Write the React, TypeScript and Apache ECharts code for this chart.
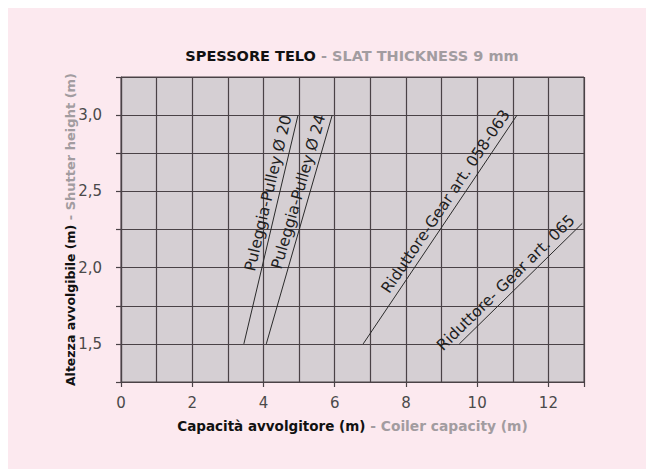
import React, { useEffect, useRef } from 'react';
import * as echarts from 'echarts';

// Line endpoints (x = coiler capacity m, y = shutter height m)
const pulley20X = [3.45, 4.97];
const pulley20Y = [1.5, 3.0];
const pulley24X = [4.08, 5.93];
const pulley24Y = [1.5, 3.0];
const gear058X = [6.8, 11.12];
const gear058Y = [1.5, 3.0];
const gear065X = [9.5, 12.95];
const gear065Y = [1.5, 2.29];

const lineNames = [
  'Puleggia-Pulley Ø 20',
  'Puleggia-Pulley Ø 24',
  'Riduttore-Gear art. 058-063',
  'Riduttore- Gear art. 065',
];

const xLabelValues = [0, 2, 4, 6, 8, 10, 12];
const yLabelValues = [1.5, 2.0, 2.5, 3.0];

const titleBold = 'SPESSORE TELO';
const titleGray = ' - SLAT THICKNESS 9 mm';
const xNameBold = 'Capacità avvolgitore (m)';
const xNameGray = ' - Coiler capacity (m)';
const yNameBold = 'Altezza avvolgibile (m)';
const yNameGray = ' - Shutter height (m)';

const FONT = 'DejaVu Sans';
const GRID = '#4a4246';
const GRAY_TEXT = '#a29ca0';

export default function App() {
  const ref = useRef<HTMLDivElement>(null);
  useEffect(() => {
    const chart = echarts.init(ref.current!, null, { renderer: 'svg' });
    const mk = (name: string, xs: number[], ys: number[]) => ({
      type: 'line',
      name,
      xAxisIndex: 0,
      yAxisIndex: 0,
      data: xs.map((x, i) => [x, ys[i]]),
      symbol: 'none',
      silent: true,
      lineStyle: { color: '#2a2a2a', width: 1 },
      markLine: {
        symbol: ['none', 'none'],
        silent: true,
        lineStyle: { color: 'transparent', width: 0 },
        label: {
          show: true,
          position: 'insideEndTop',
          formatter: name,
          color: '#1e1e1e',
          fontFamily: FONT,
          fontSize: 15.5,
          distance: 3,
        },
        data: [[{ coord: [xs[0], ys[0]] }, { coord: [xs[1], ys[1]] }]],
      },
    });
    const isIn = (arr: number[], v: number) => arr.some((a) => Math.abs(a - v) < 1e-6);
    chart.setOption({
      animation: false,
      backgroundColor: 'transparent',
      textStyle: { fontFamily: FONT },
      grid: {
        left: 113,
        top: 69,
        width: 463,
        height: 305,
        show: true,
        backgroundColor: '#d5cfd3',
        borderColor: GRID,
        borderWidth: 1,
      },
      graphic: [
        {
          type: 'text',
          x: 344,
          y: 48,
          style: {
            text: `{b|${titleBold}}{g|${titleGray}}`,
            textAlign: 'center',
            textVerticalAlign: 'middle',
            rich: {
              b: { fontFamily: FONT, fontWeight: 'bold', fontSize: 14.5, fill: '#111' },
              g: { fontFamily: FONT, fontWeight: 'bold', fontSize: 14.5, fill: GRAY_TEXT },
            },
          },
        },
      ],
      xAxis: [
        {
          type: 'value',
          min: 0,
          max: 13,
          interval: 1,
          axisLine: { show: true, lineStyle: { color: GRID, width: 1.2 } },
          axisTick: { show: false },
          axisLabel: { show: false },
          splitLine: { show: true, lineStyle: { color: GRID, width: 1.2 } },
        },
        {
          type: 'value',
          min: 0,
          max: 13,
          interval: 2,
          position: 'bottom',
          axisLine: { show: false },
          axisTick: { show: true, length: 5, lineStyle: { color: GRID, width: 1.2 } },
          splitLine: { show: false },
          axisLabel: {
            formatter: (v: number) => (isIn(xLabelValues, v) ? String(v) : ''),
            color: '#4a4a4a',
            fontSize: 15,
            fontFamily: FONT,
            margin: 13,
          },
          name: `{b|${xNameBold}}{g|${xNameGray}}`,
          nameLocation: 'middle',
          nameGap: 37,
          nameTextStyle: {
            rich: {
              b: { fontFamily: FONT, fontWeight: 'bold', fontSize: 13.5, color: '#111' },
              g: { fontFamily: FONT, fontWeight: 'bold', fontSize: 13.8, color: GRAY_TEXT },
            },
          },
        },
      ],
      yAxis: {
        type: 'value',
        min: 1.25,
        max: 3.25,
        interval: 0.25,
        axisLine: { show: true, lineStyle: { color: GRID, width: 1.2 } },
        axisTick: { show: true, length: 5, lineStyle: { color: GRID, width: 1.2 } },
        splitLine: { show: true, lineStyle: { color: GRID, width: 1.2 } },
        axisLabel: {
          formatter: (v: number) => (isIn(yLabelValues, v) ? v.toFixed(1).replace('.', ',') : ''),
          color: '#4a4a4a',
          fontSize: 15,
          fontFamily: FONT,
          margin: 19,
        },
        name: `{b|${yNameBold}}{g|${yNameGray}}`,
        nameLocation: 'middle',
        nameGap: 44,
        nameMoveOverlap: false,
        nameTextStyle: {
          rich: {
            b: { fontFamily: FONT, fontWeight: 'bold', fontSize: 12.5, color: '#111' },
            g: { fontFamily: FONT, fontWeight: 'bold', fontSize: 13, color: GRAY_TEXT },
          },
        },
      },
      series: [
        mk(lineNames[0], pulley20X, pulley20Y),
        mk(lineNames[1], pulley24X, pulley24Y),
        mk(lineNames[2], gear058X, gear058Y),
        mk(lineNames[3], gear065X, gear065Y),
      ],
    });
    return () => chart.dispose();
  }, []);
  return (
    <div
      ref={ref}
      style={{ position: 'fixed', left: 8, top: 8, width: 638, height: 461, background: '#fce9ef' }}
    />
  );
}
